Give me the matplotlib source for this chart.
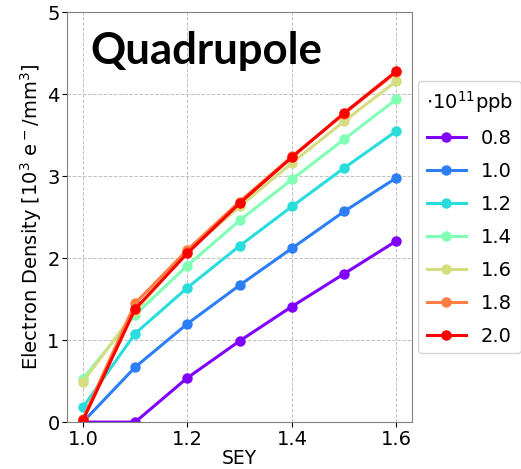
import numpy as np
import matplotlib
matplotlib.use("Agg")
import matplotlib.pyplot as plt

# SEY values on the x axis
sey = [1.0, 1.1, 1.2, 1.3, 1.4, 1.5, 1.6]

# bunch intensities (legend labels, 10^11 ppb)
intensities = ["0.8", "1.0", "1.2", "1.4", "1.6", "1.8", "2.0"]

# electron density [10^3 e-/mm^3], one list per intensity
dens_08 = [0.00, 0.00, 0.54, 0.99, 1.41, 1.81, 2.21]
dens_10 = [0.00, 0.67, 1.20, 1.67, 2.12, 2.57, 2.98]
dens_12 = [0.18, 1.08, 1.64, 2.15, 2.63, 3.10, 3.55]
dens_14 = [0.53, 1.31, 1.91, 2.46, 2.96, 3.45, 3.94]
dens_16 = [0.49, 1.35, 2.08, 2.63, 3.16, 3.67, 4.16]
dens_18 = [0.04, 1.45, 2.10, 2.69, 3.24, 3.76, 4.27]
dens_20 = [0.02, 1.38, 2.06, 2.67, 3.23, 3.77, 4.28]

densities = [dens_08, dens_10, dens_12, dens_14, dens_16, dens_18, dens_20]

colors = plt.cm.rainbow(np.linspace(0, 1, len(intensities)))

fig = plt.figure(figsize=(5.21, 4.69), dpi=100)
ax = fig.add_axes([0.129, 0.100, 0.662, 0.874])

for lab, dens, c in zip(intensities, densities, colors):
    ax.plot(sey, dens, "-o", color=c, lw=2.2, ms=6.5, label=lab)

ax.set_ylim(0, 5)
ax.set_xticks([1.0, 1.2, 1.4, 1.6])
ax.set_yticks([0, 1, 2, 3, 4, 5])
ax.tick_params(labelsize=14, pad=2)
ax.grid(True, ls="--", color="#b0b0b0", lw=0.7, alpha=0.8)
for sp in ax.spines.values():
    sp.set_color("#808080")

ax.set_xlabel("SEY", fontsize=13.5, labelpad=0)
ax.set_ylabel(r"Electron Density [10$^3$ e$^-$/mm$^3$]", fontsize=14, labelpad=2)

ax.text(0.066, 0.905, "Quadrupole", transform=ax.transAxes,
        fontsize=31.5, fontweight="bold", family="Lato", ha="left", va="center")

ax.legend(title=r"$\cdot$10$^{11}$ppb", loc="center left",
          bbox_to_anchor=(1.0, 0.5), borderaxespad=0.3,
          fontsize=14, title_fontsize=14, labelspacing=0.72)

fig.savefig("out.png", dpi=100)
